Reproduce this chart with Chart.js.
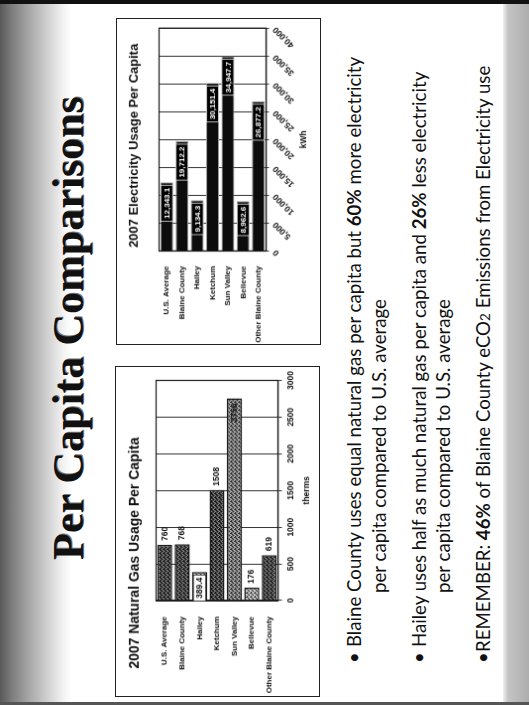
<!DOCTYPE html>
<html>
<head>
<meta charset="utf-8">
<script src="https://cdn.jsdelivr.net/npm/chart.js@4.4.0/dist/chart.umd.min.js"></script>
<style>
html,body{margin:0;padding:0;width:529px;height:705px;overflow:hidden;background:#fff;}
#slide{position:absolute;left:0;top:0;width:705px;height:529px;transform-origin:0 0;transform:translate(0,705px) rotate(-90deg);background:#fff;overflow:hidden;}
.bandTop{position:absolute;left:0;top:0;width:705px;height:72px;background:linear-gradient(to bottom,#585858 0,#7e7e7e 12px,#a9a9a9 30px,#d6d6d6 50px,#f4f4f4 64px,#fff 72px);}
.bandBottom{position:absolute;left:0;top:503px;width:705px;height:26px;background:linear-gradient(to bottom,#f0f0f0 0,#c4c4c4 5px,#adadad 100%);}
.edgeRight{position:absolute;right:0;top:0;width:4px;height:529px;background:#111;}
.edgeLeft{position:absolute;left:0;top:0;width:3px;height:529px;background:#555;}
#title{position:absolute;left:145px;top:47px;font-family:"Liberation Serif","Times New Roman",serif;font-weight:bold;font-size:44px;line-height:44px;color:#111;white-space:nowrap;text-shadow:1px 1px 0 #777;}
canvas.chart{position:absolute;border:1.5px solid #222;background:#fff;}
.line{position:absolute;white-space:nowrap;font-family:Lato,"Open Sans",sans-serif;font-size:18px;line-height:18px;color:#111;}
.dot{position:absolute;font-family:Lato,sans-serif;font-size:18px;line-height:18px;color:#111;}
.line b{font-weight:bold;}
.sub{font-size:0.72em;}
</style>
</head>
<body>
<div id="slide">
  <div class="bandTop"></div>
  <div class="bandBottom"></div>
  <div class="edgeRight"></div>
  <div class="edgeLeft"></div>
  <div id="title">Per Capita Comparisons</div>
  <canvas id="gas" class="chart" width="331" height="205" style="left:8px;top:115px;"></canvas>
  <canvas id="elec" class="chart" width="327" height="205" style="left:360px;top:116px;"></canvas>

  <div class="dot" style="left:42px;top:345px;">•</div>
  <div class="line" id="l1" style="left:58px;top:345px;">Blaine County uses equal natural gas per capita but <b>60%</b> more electricity</div>
  <div class="line" style="left:112px;top:370px;">per capita compared to U.S. average</div>
  <div class="dot" style="left:42px;top:410px;">•</div>
  <div class="line" style="left:58px;top:410px;">Hailey uses half as much natural gas per capita and <b>26%</b> less electricity</div>
  <div class="line" style="left:112px;top:434px;">per capita compared to U.S. average</div>
  <div class="dot" style="left:42px;top:474px;">•</div>
  <div class="line" style="left:53px;top:474px;">REMEMBER: <b>46%</b> of Blaine County eCO<span class="sub">2</span> Emissions from Electricity use</div>
</div>
<script>
// ---- data ----
const categories = ['U.S. Average','Blaine County','Hailey','Ketchum','Sun Valley','Bellevue','Other Blaine County'];
const gasValues = [760, 768, 389.4, 1508, 2756, 176, 619];
const gasTicks = [0, 500, 1000, 1500, 2000, 2500, 3000];
const elecValues = [12343.1, 19712.2, 9134.3, 30151.4, 34947.7, 8962.6, 26877.2];
const elecTicks = [0, 5000, 10000, 15000, 20000, 25000, 30000, 35000, 40000];
const gasTitle = '2007 Natural Gas Usage Per Capita';
const elecTitle = '2007 Electricity Usage Per Capita';

// fit bullet text size so that the first line spans its width in the slide
(function(){
  const l1 = document.getElementById('l1');
  const fs = 18 * 590 / l1.offsetWidth;
  document.querySelectorAll('.line,.dot').forEach(e => e.style.fontSize = fs.toFixed(2) + 'px');
})();

const SANS = '"Liberation Sans",Arial,sans-serif';

function pattern(ctx, bg, dark, light){
  const c = document.createElement('canvas'); c.width = 4; c.height = 4;
  const x = c.getContext('2d');
  x.fillStyle = bg; x.fillRect(0,0,4,4);
  x.fillStyle = dark; [[0,0],[2,1],[1,2],[3,3],[3,0]].forEach(p=>x.fillRect(p[0],p[1],1,1));
  x.fillStyle = light; [[1,0],[3,2],[0,3],[2,3]].forEach(p=>x.fillRect(p[0],p[1],1,1));
  return ctx.createPattern(c,'repeat');
}

const frame = {
  id:'frame',
  afterDatasetsDraw(chart){
    const a = chart.chartArea, c = chart.ctx;
    c.save(); c.strokeStyle = '#1a1a1a'; c.lineWidth = 1.2;
    c.strokeRect(a.left, a.top, a.right - a.left, a.bottom - a.top);
    c.restore();
  }
};

const boxTitle = {
  id:'boxTitle',
  afterDraw(chart, args, o){
    const c = chart.ctx; c.save();
    c.font = 'bold ' + o.size + 'px ' + SANS; c.fillStyle = '#111';
    c.textAlign = o.align; c.textBaseline = 'middle';
    c.fillText(o.text, o.x, o.y); c.restore();
  }
};

const valueLabels = {
  id:'valueLabels',
  afterDatasetsDraw(chart, args, opts){
    const c = chart.ctx, meta = chart.getDatasetMeta(0);
    c.save();
    c.font = 'bold ' + opts.size + 'px ' + SANS;
    c.textBaseline = 'middle';
    meta.data.forEach((bar, i) => {
      const t = opts.format(chart.data.datasets[0].data[i]);
      const mode = opts.modes[i];
      const w = c.measureText(t).width;
      if (mode === 'outside') {
        c.fillStyle = '#111'; c.textAlign = 'left';
        c.fillText(t, bar.x + 4, bar.y);
      } else if (mode === 'inside') {
        c.fillStyle = '#1a1a1a'; c.textAlign = 'right';
        c.fillText(t, bar.x - 5, bar.y);
      } else {
        const dark = mode === 'darkBox';
        const bw = w + 5, bh = opts.size + 4;
        const rx = bar.x - 3 - bw, ry = bar.y - bh/2;
        c.fillStyle = dark ? '#000' : '#fff';
        c.fillRect(rx, ry, bw, bh);
        c.strokeStyle = dark ? '#e0e0e0' : '#222'; c.lineWidth = 0.8;
        c.strokeRect(rx, ry, bw, bh);
        c.fillStyle = dark ? '#fff' : '#111'; c.textAlign = 'center';
        c.fillText(t, rx + bw/2, bar.y + 0.5);
      }
    });
    c.restore();
  }
};

// ---- natural gas chart ----
const gasCtx = document.getElementById('gas').getContext('2d');
const pDark = pattern(gasCtx, '#474747', '#0e0e0e', '#8c8c8c');
const pMid = pattern(gasCtx, '#7a7a7a', '#242424', '#c4c4c4');
const pLight = pattern(gasCtx, '#a8a8a8', '#333', '#eaeaea');
new Chart(gasCtx, {
  type:'bar',
  data:{labels:categories, datasets:[{data:gasValues,
    backgroundColor:[pDark,pDark,pLight,pDark,pMid,pLight,pDark],
    borderColor:'#151515', borderWidth:1.5, barPercentage:0.86, categoryPercentage:1}]},
  options:{
    indexAxis:'y', responsive:false, animation:false, devicePixelRatio:1,
    layout:{padding:{left:1,right:13.5,top:40.5,bottom:0}},
    plugins:{
      legend:{display:false}, tooltip:{enabled:false}, title:{display:false},
      boxTitle:{text:gasTitle, size:14, align:'left', x:27.5, y:19.5},
      valueLabels:{size:8.5, modes:['outside','outside','lightBox','outside','inside','outside','outside'], format:v=>String(v)}
    },
    scales:{
      x:{min:0, max:3000,
        afterBuildTicks:s=>{ s.ticks = gasTicks.map(v=>({value:v})); },
        grid:{color:'#333', lineWidth:1, tickLength:4, drawTicks:true},
        border:{color:'#111', width:1.2},
        ticks:{color:'#111', font:{family:SANS, size:8.5, weight:'bold'}, padding:4, maxRotation:0, autoSkip:false,
          callback:v=>String(v)},
        title:{display:true, text:'therms', color:'#111', font:{family:SANS, size:8.5, weight:'bold'}, padding:{top:2, bottom:7}},
        afterFit:s=>{ s.height = 41.5; }
      },
      y:{grid:{display:false}, border:{color:'#111', width:1.2},
        ticks:{color:'#111', font:{family:SANS, size:8, weight:'bold'}, padding:8, autoSkip:false},
        afterFit:s=>{ s.width = 95; }
      }
    }
  },
  plugins:[frame, valueLabels, boxTitle]
});

// ---- electricity chart ----
const fmt1 = v => v.toLocaleString('en-US',{minimumFractionDigits:1, maximumFractionDigits:1});
new Chart(document.getElementById('elec'), {
  type:'bar',
  data:{labels:categories, datasets:[{data:elecValues, backgroundColor:'#0c0c0c',
    borderColor:'#9a9a9a', borderWidth:1, barPercentage:0.84, categoryPercentage:1}]},
  options:{
    indexAxis:'y', responsive:false, animation:false, devicePixelRatio:1,
    layout:{padding:{left:1,right:6.5,top:42.5,bottom:0}},
    plugins:{
      legend:{display:false}, tooltip:{enabled:false}, title:{display:false},
      boxTitle:{text:elecTitle, size:13, align:'center', x:199.5, y:17.5},
      valueLabels:{size:8, modes:['darkBox','darkBox','darkBox','darkBox','darkBox','darkBox','darkBox'], format:fmt1}
    },
    scales:{
      x:{min:0, max:40000,
        afterBuildTicks:s=>{ s.ticks = elecTicks.map(v=>({value:v})); },
        grid:{color:'#333', lineWidth:1, tickLength:3, drawTicks:true},
        border:{color:'#111', width:1.2},
        ticks:{color:'#111', font:{family:SANS, size:8.5, weight:'bold'}, padding:2, minRotation:45, maxRotation:45, autoSkip:false,
          callback:v=>v.toLocaleString('en-US')},
        title:{display:true, text:'kWh', color:'#111', font:{family:SANS, size:8.5, weight:'bold'}, padding:{top:2, bottom:11}},
        afterFit:s=>{ s.height = 54.5; }
      },
      y:{grid:{display:false}, border:{color:'#111', width:1.2},
        ticks:{color:'#111', font:{family:SANS, size:8, weight:'bold'}, padding:7, autoSkip:false},
        afterFit:s=>{ s.width = 92.5; }
      }
    }
  },
  plugins:[frame, valueLabels, boxTitle]
});
</script>
</body>
</html>
